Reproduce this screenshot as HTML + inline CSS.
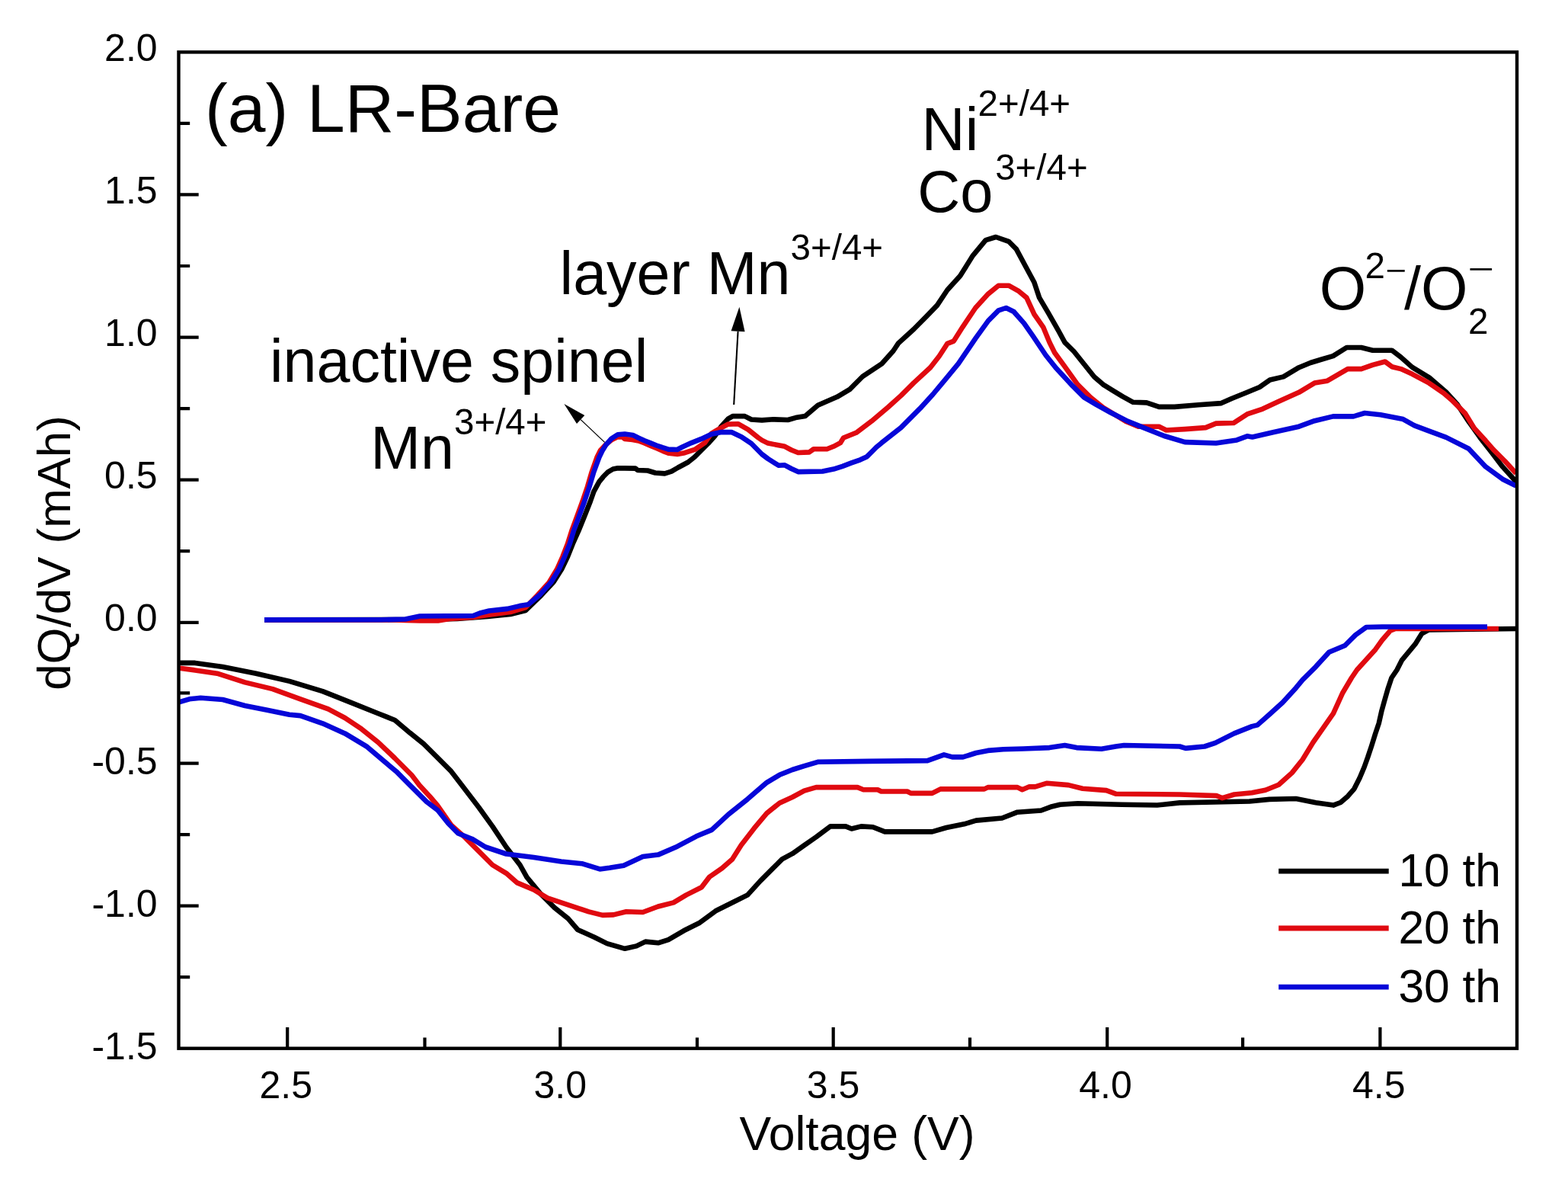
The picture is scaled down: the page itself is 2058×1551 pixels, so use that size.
<!DOCTYPE html>
<html><head><meta charset="utf-8"><title>dQ/dV LR-Bare</title>
<style>html,body{margin:0;padding:0;background:#fff;width:2058px;height:1551px;overflow:hidden}svg{display:block}text{fill:#000}</style>
</head><body>
<svg width="2058" height="1551" viewBox="0 0 2058 1551">
<rect width="2058" height="1551" fill="#fff"/>
<path d="M234.5 255.3H260.7 M234.5 442.6H260.7 M234.5 629.7H260.7 M234.5 816.8H260.7 M234.5 1001.7H260.7 M234.5 1188.6H260.7 M234.5 161.9H249.2 M234.5 349H249.2 M234.5 536.2H249.2 M234.5 723.2H249.2 M234.5 909.3H249.2 M234.5 1095.2H249.2 M234.5 1282.2H249.2 M377.2 1375.7V1348.0 M735.3 1375.7V1348.0 M1093.7 1375.7V1348.0 M1453.2 1375.7V1348.0 M1811.4 1375.7V1348.0 M557.5 1375.7V1361.5 M915 1375.7V1361.5 M1273 1375.7V1361.5 M1631.1 1375.7V1361.5" stroke="#000" stroke-width="4.2" fill="none"/>
<polyline fill="none" stroke="#000000" stroke-width="6.6" stroke-linejoin="round" stroke-linecap="butt" points="347,813.4 560,813 600,812 640,809 670,806 690,801 710.9,780.6 726.5,763.8 737.1,747.1 745.1,730.3 751.8,713.5 759.3,696.7 767.1,677.4 774.8,658 779.3,645.1 786.4,632.2 791.6,625.8 798,619.3 804.5,615.5 810.9,614.2 820,614.4 834,614.6 837,617 850,617.5 860,620.5 872.5,621.4 881.2,618.7 890,613.5 903.1,606.5 911.9,599.5 920.6,590.7 929.4,582 938.1,572.4 946.9,559.2 955.6,549.6 961.7,546.1 977.5,546.1 986.2,550.5 1000,551.4 1015.1,550.3 1034.1,551 1044.3,548.1 1056.8,546 1073.5,531.7 1098.7,520.8 1115.4,510.8 1132.2,494 1157.4,477.2 1172.4,460.5 1179.1,450.4 1199.3,432 1216,415.2 1230,400.6 1243.4,380.5 1260.2,362.1 1276.9,335.3 1293.7,315.1 1307.1,311 1323.9,316.8 1333.9,326.9 1347.4,352 1357.4,370.5 1364.1,390.6 1375.9,410.7 1389.3,434.2 1397.6,449.3 1409.4,461 1422.8,477.8 1436.2,494.5 1447.9,504.6 1460,512.1 1473.6,520.3 1487.2,527.8 1504.9,528.4 1521.2,533.9 1541.6,533.9 1572.9,531.2 1602.9,529.1 1616.5,523 1636.9,514.8 1653.2,508 1666.8,498.5 1684.5,494.4 1704.9,482.2 1720,476 1734.8,471.5 1749.7,467.1 1767.5,456 1786.7,456 1801.6,459.7 1826.8,459.7 1838.6,468.6 1853.5,481.9 1875.7,495.3 1898,514.5 1912.8,530.8 1927.6,553.1 1942.4,573.9 1957.3,593.1 1972.1,612.4 1986.9,628.7 1990,633"/>
<polyline fill="none" stroke="#000000" stroke-width="6.6" stroke-linejoin="round" stroke-linecap="butt" points="234,869.9 256,869.9 292.3,875 336,883.7 379.8,893.9 423.5,907.1 460,921.6 496.4,936.2 518.3,945 538.1,961.7 556.1,976.1 574.2,994.2 592.2,1012.2 610.3,1035.7 628.3,1059.2 646.4,1084.4 664.4,1111.5 682.5,1135 691.5,1151.2 709.6,1172.9 727.6,1190.9 745.7,1205.4 758.3,1220 780,1229.7 796.8,1238.1 820.2,1244.8 835.3,1241.4 847.1,1235.6 863.8,1237.3 877.2,1233.1 897.4,1221.3 917.5,1211.3 939.3,1195.3 964.4,1182.8 981.2,1174.4 998,1155.9 1014.7,1139.2 1026.5,1127.4 1040,1120.2 1055.5,1109.3 1071.1,1098.4 1089.8,1084.4 1110,1084.4 1117.7,1087.5 1130.2,1084.4 1145.7,1085.2 1161.3,1091.4 1223.5,1091.4 1242.1,1086 1265.5,1081.3 1281,1076.6 1315.2,1073.5 1335.4,1065.7 1366.4,1063.5 1378.9,1058.8 1391.3,1055.7 1414.6,1054.2 1472.2,1055.7 1518.8,1056.5 1548.4,1053.4 1640,1051.5 1666.1,1048.9 1700.9,1048 1727,1053.2 1750,1056.6 1759.5,1053 1769.1,1044.7 1777.4,1035.1 1784.6,1020.8 1790.6,1006.5 1795.3,993.4 1800.1,979 1804.9,963.5 1809.7,949.2 1813.2,933.7 1816.8,920.6 1821.6,903.9 1826.4,889.5 1833.5,879 1840.1,866.1 1857.5,845.2 1866.2,831.3 1875,826.5 1990,825"/>
<polyline fill="none" stroke="#e00a10" stroke-width="6.6" stroke-linejoin="round" stroke-linecap="butt" points="347,813.4 520,813.5 532,814 551,814.4 575,814.4 590,812 621,810 640,807 670,803 690,797 705.5,781 720.5,764.5 731,747 738.5,730.3 745,713.5 750.3,696.7 757.4,677.4 764.5,658 771,638.7 776.7,619.3 783.5,600 788,591 795,583.5 803,577 810,573.5 817,573.5 820,576 830,577 838,578.5 846,581.5 854,585 862,588.3 870,591.8 878,594.8 889,596 898.7,594.2 911.9,589.9 925,581.1 933.7,568.9 942.5,563.6 955.6,556.6 968.7,556.2 981.9,563.6 995,574.1 1000,577.6 1008,581.6 1030,585.8 1038.7,590.5 1047.5,594 1062.1,593.4 1067.9,589.3 1085.4,589.3 1094.1,585.8 1102.9,581.2 1107.1,574.5 1123.8,567.8 1143.9,552.7 1165.7,534.2 1182.5,519.1 1199.3,502.4 1221.1,482.3 1232.8,467.2 1243.4,450.9 1251.8,447.6 1263.5,429.1 1280.3,404 1297.1,385.6 1310.5,374.7 1323.9,374.7 1337.3,382.2 1347.4,390.6 1357.4,412.4 1369.1,429.1 1377.5,449.3 1384.2,462.7 1397.6,481.1 1414.4,504.6 1431.2,521.3 1447.9,534.8 1464.7,545 1477.7,553 1494,559.7 1521.2,559.7 1530.7,564.5 1555.2,563.1 1582.4,561.1 1596,555.6 1619.2,555 1636.9,543.4 1657.3,536.6 1677.7,527.1 1704.9,514.8 1725.3,502.6 1742.2,499.7 1768.9,484.1 1786.7,484.1 1801.6,478.9 1817.9,474.5 1826.8,481.2 1838.6,484.1 1853.5,490.8 1875.7,502.7 1895,516 1905.4,524.9 1923.2,542.7 1935,562 1949.9,578.3 1960.2,590.2 1975.1,605 1989.9,621.3"/>
<polyline fill="none" stroke="#e00a10" stroke-width="6.6" stroke-linejoin="round" stroke-linecap="butt" points="234,876.4 256,879.4 285,883.7 321.5,895.4 357.9,904.1 394.3,917.3 430.8,930.4 452.7,942 474.5,956.6 496.4,974.1 518.3,995 540.3,1017 550.6,1030.5 564,1044.9 574.2,1057 592.2,1082.6 610.3,1098.9 628.3,1116.9 646.4,1135 664.4,1145.8 678.9,1158.4 700.5,1167.5 718.6,1178.3 745.7,1187.3 772.8,1196.4 790.8,1200.9 805.2,1200.4 821.9,1196.2 843.7,1197 863.8,1189.5 884,1184.4 900.7,1174.4 920.8,1164.3 930.9,1150.9 947.7,1139.2 961.1,1127.4 972.8,1109 989.6,1087.2 1006.4,1067.1 1023.1,1053.7 1040,1046 1055.5,1037.7 1071.1,1033.1 1125.5,1033.1 1133.3,1036.2 1152,1036.2 1156.6,1038.5 1190.8,1038.5 1195.5,1040.9 1223.5,1040.9 1234.4,1035.4 1291.9,1035.4 1296.6,1033.1 1335.4,1033.1 1341.7,1036.2 1351,1032.3 1358.7,1032.4 1374.2,1027.7 1402.2,1030.1 1420.9,1034.7 1452,1037.1 1464.4,1041.7 1548.4,1042.5 1596.6,1044.1 1604.3,1047.2 1619.9,1042.5 1643.2,1040.2 1660.9,1036.7 1678.3,1029.7 1695.7,1014.1 1709.6,996.7 1723.5,974 1735.7,956.6 1750,936.1 1761.9,909.8 1773.9,889.5 1781,879 1805.3,852.2 1814,840 1824.5,827.8 1831.4,825 1967,825"/>
<polyline fill="none" stroke="#0606d8" stroke-width="6.6" stroke-linejoin="round" stroke-linecap="butt" points="347,813.4 500,813.3 532,812.5 551,808.5 621,808 631,804.2 642,801.5 666,798.9 682,795.1 693.4,793.2 708.4,780.6 723.5,763.8 733.6,747.1 741.1,730.3 747.8,713.5 752.9,696.7 760,677.4 767.1,658 773.5,638.7 779.3,619.3 786.4,600 790.5,591.5 795.3,583.7 802.6,575.5 810.8,570.3 820,569.5 830.6,570.9 838.3,574.8 846.1,578.3 853.9,581.4 861.7,584.5 869.5,587.2 877.3,589.6 888.9,590 895.1,586.8 907.5,581.1 920.6,575.9 933.7,569.7 946.9,567.1 960,567.1 973.1,573.2 986.2,582 1000,596 1008,602 1022,610.8 1030,610.3 1038.7,615 1047.5,619.1 1079.6,618.5 1094.1,615.6 1105.8,611.8 1117.5,607.4 1129.1,603.3 1137.9,599.2 1146.6,590.5 1150,587 1157,581.2 1182.5,561.1 1207.6,535.9 1224.4,517.5 1241.2,497.4 1257.9,477.2 1280.3,444.2 1297.1,420.8 1310.5,407.4 1320.5,404 1330.6,409 1344,424.1 1355.7,440.9 1372.5,466 1385.9,482.8 1406,504.6 1422.8,521.3 1439.6,531.4 1458,541.5 1480.4,552.9 1500.8,561.1 1528,572 1555.2,580.1 1596,581.5 1623.3,577.4 1636.9,572.3 1643.7,573.5 1670.9,567.2 1704.9,559.7 1725.3,552.2 1749.7,546.4 1776.4,546.4 1791.2,542 1811.9,544.2 1841.6,550.1 1856.4,558.3 1875.7,565.7 1898,573.9 1927.6,588.7 1949.9,612.4 1972.1,628.7 1989.9,637.6"/>
<polyline fill="none" stroke="#0606d8" stroke-width="6.6" stroke-linejoin="round" stroke-linecap="butt" points="234,921.6 248.6,917.3 263.2,915.8 292.3,918 321.5,926 350.6,931.8 379.8,937.7 394.3,939.1 423.5,949.3 452.7,962.4 481.8,979.9 511,1004.7 520,1012.2 538.1,1030.3 559.7,1051.9 574.2,1062.8 588.6,1080.8 601.2,1093.5 619.3,1100.7 637.3,1111.5 664.4,1120.5 700.5,1125 736.6,1130.5 763.7,1133.2 787.2,1140.4 800,1138.7 818.6,1135.8 843.7,1124.1 863.8,1121.6 889,1110.7 914.1,1097.3 934.3,1088.9 956.1,1068.7 981.2,1048.6 1006.4,1026.8 1023.1,1016.8 1040,1010 1055.5,1005.1 1074.2,999.7 1141.1,998.9 1217.3,998.1 1239,990.3 1249.9,993.4 1263.9,993.4 1281,988 1296.6,984.9 1316.8,983.3 1343.2,982.5 1377.3,981.1 1397.5,978 1413.1,981.1 1445.7,982.7 1464.4,979.5 1475.3,978 1548.4,979.5 1556.1,981.9 1581,979.5 1595,974.9 1619.9,962.4 1643.2,953.1 1650.4,951.4 1666.1,937.5 1683.5,921.8 1700.9,902.7 1709.6,892.2 1727,874.8 1744.4,855.7 1765.3,847 1779.2,833.1 1793.2,823 1814,822.5 1952,822.5"/>
<rect x="234.5" y="68.4" width="1756.5" height="1307.3" fill="none" stroke="#000" stroke-width="4.4"/>
<text x="206.6" y="80.2" font-size="50" text-anchor="end" font-family="'Liberation Sans', Arial, sans-serif">2.0</text>
<text x="206.6" y="267.1" font-size="50" text-anchor="end" font-family="'Liberation Sans', Arial, sans-serif">1.5</text>
<text x="206.6" y="454.2" font-size="50" text-anchor="end" font-family="'Liberation Sans', Arial, sans-serif">1.0</text>
<text x="206.6" y="641.3" font-size="50" text-anchor="end" font-family="'Liberation Sans', Arial, sans-serif">0.5</text>
<text x="206.6" y="828.4" font-size="50" text-anchor="end" font-family="'Liberation Sans', Arial, sans-serif">0.0</text>
<text x="206.6" y="1015.5" font-size="50" text-anchor="end" font-family="'Liberation Sans', Arial, sans-serif">-0.5</text>
<text x="206.6" y="1202.6" font-size="50" text-anchor="end" font-family="'Liberation Sans', Arial, sans-serif">-1.0</text>
<text x="206.6" y="1389.8" font-size="50" text-anchor="end" font-family="'Liberation Sans', Arial, sans-serif">-1.5</text>
<text x="375.2" y="1441.4" font-size="50" text-anchor="middle" font-family="'Liberation Sans', Arial, sans-serif">2.5</text>
<text x="735.3" y="1441.4" font-size="50" text-anchor="middle" font-family="'Liberation Sans', Arial, sans-serif">3.0</text>
<text x="1093.5" y="1441.4" font-size="50" text-anchor="middle" font-family="'Liberation Sans', Arial, sans-serif">3.5</text>
<text x="1451" y="1441.4" font-size="50" text-anchor="middle" font-family="'Liberation Sans', Arial, sans-serif">4.0</text>
<text x="1809.7" y="1441.4" font-size="50" text-anchor="middle" font-family="'Liberation Sans', Arial, sans-serif">4.5</text>
<text x="1125" y="1508.8" font-size="62.5" text-anchor="middle" font-family="'Liberation Sans', Arial, sans-serif">Voltage (V)</text>
<text transform="translate(91.8 725.5) rotate(-90)" font-size="61.8" text-anchor="middle" font-family="'Liberation Sans', Arial, sans-serif">dQ/dV (mAh)</text>
<text x="269" y="173.4" font-size="89.4" font-family="'Liberation Sans', Arial, sans-serif">(a) LR-Bare</text>
<text x="1209.6" y="196.8" font-size="79" font-family="'Liberation Sans', Arial, sans-serif">Ni</text><text x="1283.6" y="152.4" font-size="47.5" font-family="'Liberation Sans', Arial, sans-serif">2+/4+</text>
<text x="1204.3" y="277.8" font-size="77.5" font-family="'Liberation Sans', Arial, sans-serif">Co</text><text x="1306.2" y="236.2" font-size="47.5" font-family="'Liberation Sans', Arial, sans-serif">3+/4+</text>
<text x="734.6" y="386.4" font-size="79" font-family="'Liberation Sans', Arial, sans-serif">layer Mn</text><text x="1037.6" y="341.4" font-size="47.5" font-family="'Liberation Sans', Arial, sans-serif">3+/4+</text>
<text x="354" y="500.7" font-size="79" font-family="'Liberation Sans', Arial, sans-serif">inactive spinel</text>
<text x="486.2" y="614.9" font-size="79" font-family="'Liberation Sans', Arial, sans-serif">Mn</text><text x="596" y="570.2" font-size="47.5" font-family="'Liberation Sans', Arial, sans-serif">3+/4+</text>
<text x="1731.8" y="406.2" font-size="79" font-family="'Liberation Sans', Arial, sans-serif">O</text>
<text x="1791.6" y="365" font-size="47.5" font-family="'Liberation Sans', Arial, sans-serif">2</text>
<text transform="translate(1818.6 367.5) scale(1.003 0.806)" font-size="47" font-family="'Liberation Sans', Arial, sans-serif">−</text>
<text x="1843" y="406.2" font-size="79" font-family="'Liberation Sans', Arial, sans-serif">/O</text>
<text x="1927" y="437.6" font-size="47.5" font-family="'Liberation Sans', Arial, sans-serif">2</text>
<text transform="translate(1926.5 365.6) scale(1.257 0.806)" font-size="47" font-family="'Liberation Sans', Arial, sans-serif">−</text>
<line x1="793.6" y1="580.4" x2="762.2" y2="550.6" stroke="#000" stroke-width="1.3"/><polygon points="740.4,529.9 767.3,545.1 757.0,556.0" fill="#000"/>
<line x1="963.2" y1="531" x2="968.6" y2="434.7" stroke="#000" stroke-width="2.1"/><polygon points="970.4,402.8 977.6,435.3 959.6,434.2" fill="#000"/>
<line x1="1678.2" y1="1143.2" x2="1822.7" y2="1143.2" stroke="#000000" stroke-width="6.8"/>
<line x1="1678.2" y1="1218" x2="1822.7" y2="1218" stroke="#e00a10" stroke-width="6.8"/>
<line x1="1678.2" y1="1295.2" x2="1822.7" y2="1295.2" stroke="#0606d8" stroke-width="6.8"/>
<text x="1835.4" y="1162.9" font-size="60.5" font-family="'Liberation Sans', Arial, sans-serif">10 th</text>
<text x="1835.4" y="1237.6" font-size="60.5" font-family="'Liberation Sans', Arial, sans-serif">20 th</text>
<text x="1835.4" y="1314.7" font-size="60.5" font-family="'Liberation Sans', Arial, sans-serif">30 th</text>
</svg>
</body></html>
